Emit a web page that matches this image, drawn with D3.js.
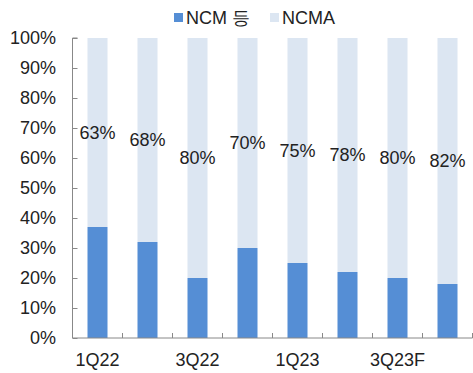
<!DOCTYPE html>
<html>
<head>
<meta charset="utf-8">
<script src="https://cdn.jsdelivr.net/npm/d3@7"></script>
<style>
  html, body { margin: 0; padding: 0; background: #fff; }
  svg text { font-family: "Liberation Sans", Arial, sans-serif; fill: #222; }
</style>
</head>
<body>
<svg id="chart" width="473" height="373"></svg>
<script>
// Quarterly share by cathode type (%)
const quarters = ["1Q22", "2Q22", "3Q22", "4Q22", "1Q23", "2Q23", "3Q23F", "4Q23F"];
const ncmShare = [37, 32, 20, 30, 25, 22, 20, 18];
const ncmaShare = [63, 68, 80, 70, 75, 78, 80, 82];
const seriesNames = ["NCM 등", "NCMA"];
const yTicks = [0, 10, 20, 30, 40, 50, 60, 70, 80, 90, 100];
const shownLabels = ["1Q22", "3Q22", "1Q23", "3Q23F"];

const colors = ["#558ed5", "#dce6f2"];
const margin = { left: 72.5, right: 0.5, top: 38, bottom: 35 };
const W = 473, H = 373;
const svg = d3.select("#chart");

const x = d3.scaleBand().domain(quarters).range([margin.left, W - margin.right]).paddingInner(0.6).paddingOuter(0.3);
const xOuter = d3.scaleBand().domain(quarters).range([margin.left, W - margin.right]);
const y = d3.scaleLinear().domain([0, 100]).range([H - margin.bottom, margin.top]);

const rows = quarters.map((q, i) => ({ q, ncm: ncmShare[i], ncma: ncmaShare[i] }));
const stack = d3.stack().keys(["ncm", "ncma"])(rows);

// stacked bars
svg.append("g").selectAll("g").data(stack).join("g")
  .attr("fill", (d, i) => colors[i])
  .selectAll("rect").data(d => d).join("rect")
  .attr("x", d => x(d.data.q))
  .attr("width", x.bandwidth())
  .attr("y", d => y(d[1]))
  .attr("height", d => y(d[0]) - y(d[1]));

// NCMA share labels centred in the upper segment
svg.append("g").selectAll("text").data(stack[1]).join("text")
  .attr("x", d => x(d.data.q) + x.bandwidth() / 2)
  .attr("y", d => y((d[0] + d[1]) / 2))
  .attr("dy", "0.35em")
  .attr("text-anchor", "middle")
  .style("font-size", "18px")
  .text(d => d.data.ncma + "%");

// y axis
const yAxis = svg.append("g")
  .attr("transform", `translate(${margin.left},0)`)
  .call(d3.axisRight(y).tickValues(yTicks).tickSize(5).tickFormat(""));
yAxis.selectAll("line, path").attr("stroke", "#888");
yAxis.select(".domain").attr("d", `M5,${y(100)}H0V${y(0)}`);
svg.append("g").selectAll("text").data(yTicks).join("text")
  .attr("x", 56)
  .attr("y", d => y(d))
  .attr("dy", "0.35em")
  .attr("text-anchor", "end")
  .style("font-size", "18px")
  .text(d => d + "%");

// x axis with ticks between categories
const bounds = quarters.map(q => xOuter(q)).slice(1).concat([W - margin.right]);
const xAxisG = svg.append("g");
xAxisG.append("line")
  .attr("x1", margin.left).attr("x2", W - margin.right)
  .attr("y1", y(0)).attr("y2", y(0))
  .attr("stroke", "#888");
xAxisG.selectAll("line.tick").data(bounds).join("line")
  .attr("class", "tick")
  .attr("x1", d => d).attr("x2", d => d)
  .attr("y1", y(0)).attr("y2", y(0) - 5)
  .attr("stroke", "#888");
svg.append("g").selectAll("text").data(quarters.filter(q => shownLabels.includes(q))).join("text")
  .attr("x", d => x(d) + x.bandwidth() / 2)
  .attr("y", 366)
  .attr("text-anchor", "middle")
  .style("font-size", "18px")
  .text(d => d);

// legend
const legend = svg.append("g");
const legendItems = [{ name: seriesNames[0], x: 174 }, { name: seriesNames[1], x: 270 }];
legendItems.forEach((it, i) => {
  legend.append("rect").attr("x", it.x).attr("y", 13).attr("width", 9).attr("height", 9).attr("fill", colors[i]);
  legend.append("text").attr("x", it.x + 12).attr("y", 24).style("font-size", "18px").text(it.name);
});
</script>
</body>
</html>
